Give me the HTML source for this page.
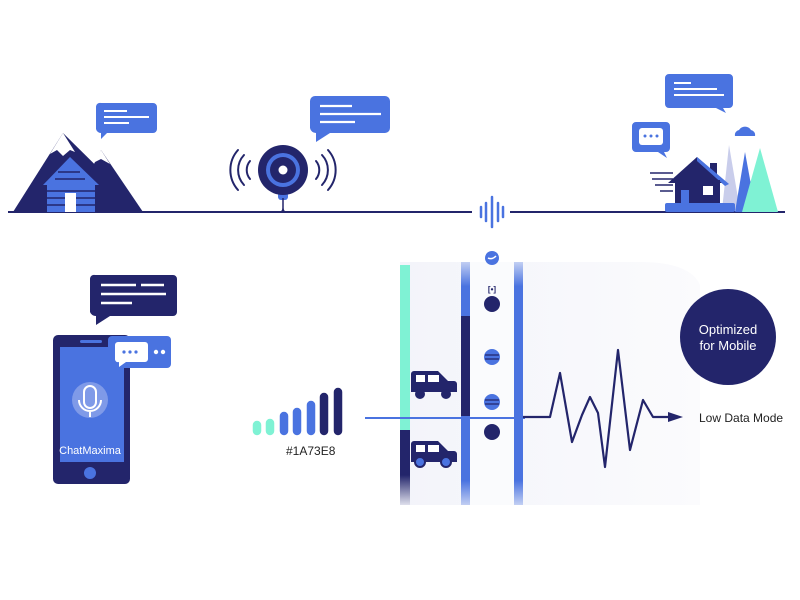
<!DOCTYPE html>
<html><head><meta charset="utf-8"><style>
html,body{margin:0;padding:0;background:#fff;}
svg{display:block;font-family:"Liberation Sans",sans-serif;}
</style></head><body>
<svg width="800" height="600" viewBox="0 0 800 600" xmlns="http://www.w3.org/2000/svg">
<defs>
<linearGradient id="fadeB" x1="0" y1="0" x2="0" y2="1">
<stop offset="0" stop-color="#4a73e0" stop-opacity="0.3"/><stop offset="0.1" stop-color="#4a73e0"/><stop offset="0.9" stop-color="#4a73e0"/><stop offset="1" stop-color="#4a73e0" stop-opacity="0.3"/></linearGradient>
<linearGradient id="fadeN" x1="0" y1="0" x2="0" y2="1">
<stop offset="0" stop-color="#23256b"/><stop offset="0.6" stop-color="#23256b"/><stop offset="1" stop-color="#23256b" stop-opacity="0.1"/></linearGradient>
<linearGradient id="panel" x1="0" y1="0" x2="1" y2="0">
<stop offset="0" stop-color="#f3f4fa"/><stop offset="1" stop-color="#fbfbfd"/></linearGradient>
</defs>
<line x1="8" y1="212" x2="472" y2="212" stroke="#23256b" stroke-width="2"/>
<line x1="510" y1="212" x2="785" y2="212" stroke="#23256b" stroke-width="2"/>
<g stroke="#4a73e0" stroke-width="2.5" stroke-linecap="round">
<line x1="481" y1="207" x2="481" y2="217"/><line x1="486" y1="203" x2="486" y2="221"/><line x1="492" y1="197" x2="492" y2="227"/><line x1="498" y1="203" x2="498" y2="221"/><line x1="503" y1="207" x2="503" y2="217"/></g>

<polygon points="13,212 63,133 143,212" fill="#23256b"/>
<polygon points="70,212 101,150 143,212" fill="#23256b"/>
<polygon points="63,133 50,154 57,150 63,156 70,150 75,152" fill="#fff"/>
<polygon points="101,150 93,163 101,159 110,164" fill="#fff"/>
<polygon points="43,185 70,157 99,185" fill="#4a73e0"/>
<rect x="47" y="184" width="48" height="28" fill="#4a73e0"/>
<g stroke="#23256b" stroke-width="1.5"><line x1="47" y1="191" x2="95" y2="191"/><line x1="47" y1="198" x2="95" y2="198"/><line x1="47" y1="205" x2="95" y2="205"/><line x1="58" y1="172" x2="80" y2="172"/><line x1="55" y1="179" x2="85" y2="179"/></g>
<rect x="65" y="193" width="11" height="19" fill="#fff"/>
<path d="M101,103 h52 a4,4 0 0 1 4,4 v22 a4,4 0 0 1 -4,4 h-46 l-6,6 v-6 a5,5 0 0 1 -5,-4 v-22 a4,4 0 0 1 5,-4z" fill="#4a73e0"/>
<g stroke="#fff" stroke-width="2"><line x1="104" y1="111" x2="127" y2="111"/><line x1="104" y1="117" x2="149" y2="117"/><line x1="104" y1="123" x2="129" y2="123"/></g>

<rect x="278" y="192" width="10" height="8" rx="3" fill="#4a73e0"/>
<path d="M283,198 v10 q0,4 -3,4 M283,208 q0,4 3,4" stroke="#23256b" stroke-width="1.5" fill="none"/>
<circle cx="283" cy="170" r="25" fill="#23256b"/>
<circle cx="283" cy="170" r="17" fill="#4a73e0"/>
<circle cx="283" cy="170" r="13" fill="#23256b"/>
<circle cx="283" cy="170" r="4.5" fill="#fff"/>
<g stroke="#23256b" stroke-width="2" fill="none" stroke-linecap="round">
<path d="M250,161 a14,14 0 0 0 0,18"/><path d="M244,155 a22,22 0 0 0 0,30"/><path d="M238,150 a30,30 0 0 0 0,40"/>
<path d="M316,161 a14,14 0 0 1 0,18"/><path d="M322,155 a22,22 0 0 1 0,30"/><path d="M328,150 a30,30 0 0 1 0,40"/></g>
<path d="M315,96 h70 a5,5 0 0 1 5,5 v27 a5,5 0 0 1 -5,5 h-55 l-14,9 v-9 a6,6 0 0 1 -6,-5 v-27 a5,5 0 0 1 5,-5z" fill="#4a73e0"/>
<g stroke="#fff" stroke-width="2.2"><line x1="320" y1="106" x2="352" y2="106"/><line x1="320" y1="114" x2="381" y2="114"/><line x1="320" y1="122" x2="355" y2="122"/></g>

<path d="M669,74 h60 a4,4 0 0 1 4,4 v26 a4,4 0 0 1 -4,4 h-6 l3,5 -10,-5 h-47 a4,4 0 0 1 -4,-4 v-26 a4,4 0 0 1 4,-4z" fill="#4a73e0"/>
<g stroke="#fff" stroke-width="2"><line x1="674" y1="83" x2="691" y2="83"/><line x1="674" y1="89" x2="717" y2="89"/><line x1="674" y1="95" x2="724" y2="95"/></g>
<path d="M632,122 h34 a4,4 0 0 1 4,4 v22 a4,4 0 0 1 -4,4 h-2 l3,6 -9,-6 h-22 a4,4 0 0 1 -4,-4 v-22 a4,4 0 0 1 4,-4z" fill="#4a73e0"/>
<rect x="639" y="128" width="24" height="17" rx="3" fill="#fff"/>
<g fill="#4a73e0"><circle cx="645" cy="136" r="1.5"/><circle cx="651" cy="136" r="1.5"/><circle cx="657" cy="136" r="1.5"/></g>
<path d="M735,136 a5,5 0 0 1 4,-6 a7,7 0 0 1 12,0 a5,5 0 0 1 4,6z" fill="#4a73e0"/>
<polygon points="722,210 729,145 740,210" fill="#c9cdeb"/>
<polygon points="735,212 745,152 756,212" fill="#4a73e0"/>
<polygon points="742,212 760,148 778,212" fill="#7ff2d4"/>
<g stroke="#23256b" stroke-width="1.5"><line x1="650" y1="173" x2="673" y2="173"/><line x1="652" y1="179" x2="673" y2="179"/><line x1="655" y1="185" x2="673" y2="185"/><line x1="660" y1="191" x2="673" y2="191"/></g>
<rect x="710" y="163" width="7" height="14" fill="#23256b"/>
<polygon points="668,183 697,157 727,183" fill="#23256b"/>
<path d="M697,157 L729,184 L725,186 L697,161z" fill="#4a73e0"/>
<rect x="675" y="180" width="45" height="27" fill="#23256b"/>
<rect x="681" y="190" width="8" height="17" fill="#4a73e0"/>
<rect x="703" y="186" width="10" height="9" fill="#fff"/>
<rect x="665" y="203" width="70" height="9" rx="2" fill="#4a73e0"/>

<path d="M98,275 h75 a4,4 0 0 1 4,4 v33 a4,4 0 0 1 -4,4 h-63 l-14,9 v-9 a6,6 0 0 1 -6,-4 v-33 a4,4 0 0 1 5,-4z" fill="#23256b"/>
<g stroke="#fff" stroke-width="2.5"><line x1="101" y1="285" x2="136" y2="285"/><line x1="141" y1="285" x2="164" y2="285"/><line x1="101" y1="294" x2="166" y2="294"/><line x1="101" y1="303" x2="132" y2="303"/></g>
<rect x="53" y="335" width="77" height="149" rx="5" fill="#23256b"/>
<rect x="60" y="347" width="64" height="115" fill="#4a73e0"/>
<rect x="80" y="340" width="22" height="3" rx="1.5" fill="#4a73e0"/>
<circle cx="90" cy="473" r="6" fill="#4a73e0"/>
<circle cx="90" cy="400" r="18" fill="#7f9ae8"/>
<rect x="84" y="386" width="12" height="22" rx="6" fill="none" stroke="#fff" stroke-width="2"/>
<path d="M79,400 a11,11 0 0 0 22,0 M90,411 v6" fill="none" stroke="#fff" stroke-width="2"/>
<text x="90" y="454" fill="#fff" font-size="11" text-anchor="middle">ChatMaxima</text>
<rect x="108" y="336" width="63" height="32" rx="4" fill="#4a73e0"/>
<path d="M118,342 h27 a3,3 0 0 1 3,3 v14 a3,3 0 0 1 -3,3 h-19 l-7,5 v-5 a3,3 0 0 1 -4,-3 v-14 a3,3 0 0 1 3,-3z" fill="#fff"/>
<g fill="#4a73e0"><circle cx="124" cy="352" r="1.6"/><circle cx="130" cy="352" r="1.6"/><circle cx="136" cy="352" r="1.6"/></g>
<circle cx="156" cy="352" r="2.2" fill="#fff"/><circle cx="163" cy="352" r="2.2" fill="#fff"/>

<g stroke-width="8.5" stroke-linecap="round">
<line x1="257" y1="431" x2="257" y2="425" stroke="#7ff2d4"/>
<line x1="270" y1="431" x2="270" y2="423" stroke="#7ff2d4"/>
<line x1="284" y1="431" x2="284" y2="416" stroke="#4a73e0"/>
<line x1="297" y1="431" x2="297" y2="412" stroke="#4a73e0"/>
<line x1="311" y1="431" x2="311" y2="405" stroke="#4a73e0"/>
<line x1="324" y1="431" x2="324" y2="397" stroke="#23256b"/>
<line x1="338" y1="431" x2="338" y2="392" stroke="#23256b"/></g>
<text x="286" y="455" font-size="12" fill="#222">#1A73E8</text>

<path d="M400,262 H640 Q690,262 700,285 L700,505 H400z" fill="url(#panel)"/>
<rect x="400" y="265" width="10" height="165" fill="#7ff2d4"/>
<rect x="400" y="430" width="10" height="75" fill="url(#fadeN)"/>
<rect x="461" y="262" width="9" height="243" fill="url(#fadeB)"/>
<rect x="461" y="316" width="9" height="100" fill="#23256b"/>
<rect x="470" y="262" width="44" height="243" fill="#fafbfd"/>
<rect x="514" y="262" width="9" height="243" fill="url(#fadeB)"/>
<circle cx="492" cy="258" r="7" fill="#4a73e0"/>
<path d="M488,258 q4,2 8,-2" stroke="#fff" stroke-width="1.5" fill="none"/>
<text x="492" y="292" font-size="8" fill="#23256b" text-anchor="middle" font-weight="bold">[•]</text>
<circle cx="492" cy="304" r="8" fill="#23256b"/>
<circle cx="492" cy="357" r="8" fill="#4a73e0"/>
<path d="M485,355 h14 M485,359 h14" stroke="#23256b" stroke-width="1.3"/>
<circle cx="492" cy="402" r="8" fill="#4a73e0"/>
<path d="M485,400 h14 M485,404 h14" stroke="#23256b" stroke-width="1.3"/>
<circle cx="492" cy="432" r="8" fill="#23256b"/>
<g fill="#23256b">
<path d="M411,392 v-18 a3,3 0 0 1 3,-3 h24 l10,10 h6 a3,3 0 0 1 3,3 v8z"/>
<circle cx="420" cy="394" r="5"/><circle cx="446" cy="394" r="5"/>
<path d="M411,462 v-18 a3,3 0 0 1 3,-3 h24 l10,10 h6 a3,3 0 0 1 3,3 v8z"/>
</g>
<rect x="416" y="375" width="9" height="7" fill="#fff"/><rect x="428" y="375" width="11" height="7" fill="#fff"/>
<rect x="416" y="445" width="9" height="7" fill="#fff"/><rect x="428" y="445" width="11" height="7" fill="#fff"/>
<circle cx="420" cy="462" r="5" fill="#4a73e0" stroke="#23256b" stroke-width="2"/><circle cx="446" cy="462" r="5" fill="#4a73e0" stroke="#23256b" stroke-width="2"/>
<line x1="365" y1="418" x2="525" y2="418" stroke="#4a73e0" stroke-width="2"/>
<polyline points="523,417 550,417 560,373 572,442 582,415 590,397 598,413 605,467 618,350 630,450 643,400 653,417 670,417" fill="none" stroke="#23256b" stroke-width="2.2" stroke-linejoin="round"/>
<polygon points="668,412 683,417 668,422" fill="#23256b"/>
<text x="699" y="422" font-size="12" fill="#222">Low Data Mode</text>
<circle cx="728" cy="337" r="48" fill="#23256b"/>
<text x="728" y="334" font-size="13" fill="#fff" text-anchor="middle">Optimized</text>
<text x="728" y="350" font-size="13" fill="#fff" text-anchor="middle">for Mobile</text>
</svg>
</body></html>
